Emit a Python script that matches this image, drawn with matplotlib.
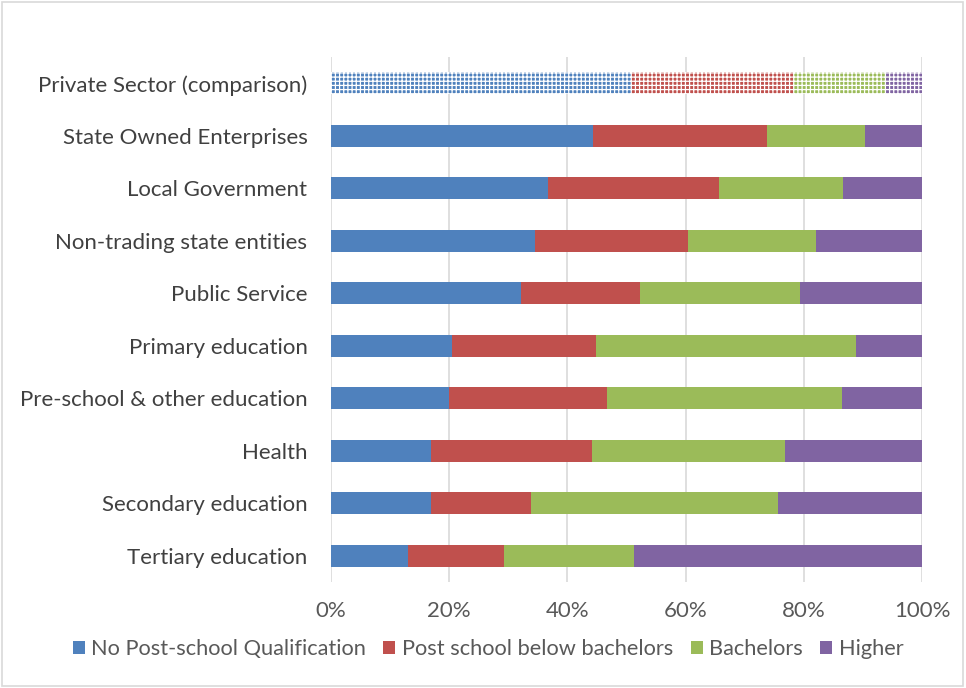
import matplotlib
matplotlib.use("Agg")
import matplotlib.pyplot as plt
from matplotlib.patches import Rectangle, Patch
from matplotlib.ticker import FuncFormatter
import numpy as np

categories = ["Private Sector (comparison)", "State Owned Enterprises", "Local Government",
              "Non-trading state entities", "Public Service", "Primary education",
              "Pre-school & other education", "Health", "Secondary education", "Tertiary education"]
series_names = ["No Post-school Qualification", "Post school below bachelors", "Bachelors", "Higher"]
no_post = [50.7, 44.3, 36.8, 34.5, 32.1, 20.5, 20.0, 17.0, 17.0, 13.1]
below_bach = [27.4, 29.5, 28.8, 25.9, 20.2, 24.3, 26.7, 27.1, 16.9, 16.2]
bachelors = [15.7, 16.5, 21.1, 21.7, 27.0, 44.0, 39.7, 32.8, 41.7, 21.9]
higher = [6.2, 9.7, 13.3, 17.9, 20.7, 11.2, 13.6, 23.1, 24.4, 48.8]
xticks = [0, 20, 40, 60, 80, 100]

colors = ["#4F81BD", "#C0504D", "#9BBB59", "#8064A2"]
plt.rcParams['font.family'] = ['Lato', 'DejaVu Sans']
plt.rcParams['hatch.linewidth'] = 0.9

fig = plt.figure(figsize=(9.66, 6.88), dpi=100)
ax = fig.add_axes([331/966, 1-582/688, (922-331)/966, (582-57)/688])

y = np.arange(len(categories))[::-1]
data = [no_post, below_bach, bachelors, higher]
left = np.zeros(len(categories))
for vals, col, name in zip(data, colors, series_names):
    vals = np.array(vals)
    bars = ax.barh(y, vals, left=left, height=0.42, color=col, label=name, linewidth=0, zorder=3)
    # comparison row patterned
    bars[0].set_hatch('++++')
    bars[0].set_edgecolor('white')
    bars[0].set_linewidth(0)
    left += vals

ax.set_xlim(0, 100)
ax.set_ylim(-0.5, len(categories) - 0.5)
ax.set_yticks(y)
ax.set_yticklabels(categories, fontsize=16, color="#404040")
ax.set_xticks(xticks)
ax.xaxis.set_major_formatter(FuncFormatter(lambda v, p: f"{int(v)}%"))
ax.tick_params(axis='x', labelsize=16, labelcolor="#595959", length=0, pad=14)
ax.tick_params(axis='y', length=0, pad=17)
ax.grid(axis='x', color="#D9D9D9", linewidth=1.2, zorder=0)
for s in ax.spines.values():
    s.set_visible(False)

handles = [Patch(facecolor=c, edgecolor='none') for c in colors]
fig.legend(handles, series_names, loc='center', bbox_to_anchor=(488/966, 1-649/688), ncol=4,
           frameon=False, fontsize=15.7, handlelength=0.55, handleheight=0.55, handletextpad=0.3,
           columnspacing=0.8, labelcolor="#595959")

fig.patches.append(Rectangle((2/966, 2/688), 961/966, 684/688, transform=fig.transFigure,
                             fill=False, edgecolor="#D9D9D9", linewidth=1.2))

fig.savefig("out.png", dpi=100, facecolor="white")
